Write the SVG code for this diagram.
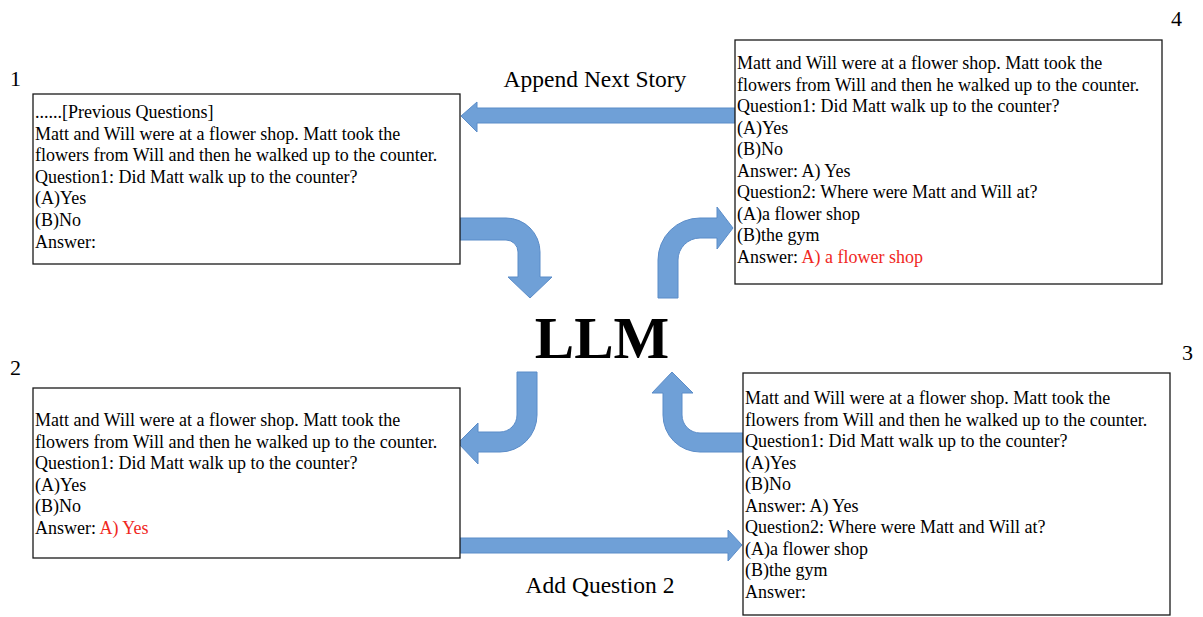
<svg xmlns="http://www.w3.org/2000/svg" width="1203" height="617" viewBox="0 0 1203 617">
<style>
.box{fill:#fff;stroke:#1a1a1a;stroke-width:1.3}
.t{font-family:"Liberation Serif","Times New Roman",serif;font-size:18px;fill:#000}
.red{fill:#f0281e}
.num{font-family:"Liberation Serif","Times New Roman",serif;font-size:22px;fill:#000}
.lbl{font-family:"Liberation Serif","Times New Roman",serif;font-size:23.5px;fill:#000}
.arr{fill:#6fa0d7;stroke:#5b8cc8;stroke-width:1}
</style>
<rect width="1203" height="617" fill="#fff"/>
<g id="connectors">
<path class="arr" d="M735,108 V123 H477 V132 L461,116 L477,102 V108 Z"/>
<path class="arr" d="M460,538 H728 V530 L742,545 L728,561 V553 H460 Z"/>
<path class="arr" d="M460,218 H506 A34,34 0 0 1 540,252 V277 H552 L530,298 L508,277 H518 V252 A12,12 0 0 0 506,240 H460 Z"/>
<path class="arr" d="M658,298 V260 A42,42 0 0 1 700,218 H717 V207 L733,228 L717,249 V238 H700 A22,22 0 0 0 678,260 V298 Z"/>
<path class="arr" d="M517,372 H537 V415 A37,37 0 0 1 500,452 H478 V464 L458,443 L478,423 V432 H500 A17,17 0 0 0 517,415 Z"/>
<path class="arr" d="M743,433 V452 H700 A37,37 0 0 1 663,415 V393 H652 L672,372 L693,393 H682 V415 A18,18 0 0 0 700,433 Z"/>
<text class="lbl" x="595" y="87" text-anchor="middle">Append Next Story</text>
<text class="lbl" x="600" y="593" text-anchor="middle">Add Question 2</text>
</g>
<g id="llm">
<text x="602" y="358" text-anchor="middle" font-family="'Liberation Serif','Times New Roman',serif" font-size="59" font-weight="bold">LLM</text>
</g>
<g id="node1">
<text class="num" x="10" y="86">1</text>
<rect class="box" x="33" y="94" width="427" height="170"/>
<text class="t" x="35" y="118">......[Previous Questions]</text>
<text class="t" x="35" y="139.6">Matt and Will were at a flower shop. Matt took the</text>
<text class="t" x="35" y="161.2">flowers from Will and then he walked up to the counter.</text>
<text class="t" x="35" y="182.8">Question1: Did Matt walk up to the counter?</text>
<text class="t" x="35" y="204.4">(A)Yes</text>
<text class="t" x="35" y="226">(B)No</text>
<text class="t" x="35" y="247.6">Answer:</text>
</g>
<g id="node2">
<text class="num" x="10" y="375">2</text>
<rect class="box" x="33" y="388" width="427" height="170"/>
<text class="t" x="35" y="426">Matt and Will were at a flower shop. Matt took the</text>
<text class="t" x="35" y="447.5">flowers from Will and then he walked up to the counter.</text>
<text class="t" x="35" y="469">Question1: Did Matt walk up to the counter?</text>
<text class="t" x="35" y="490.5">(A)Yes</text>
<text class="t" x="35" y="512">(B)No</text>
<text class="t" x="35" y="533.5">Answer: <tspan class="red">A) Yes</tspan></text>
</g>
<g id="node4">
<text class="num" x="1171" y="26">4</text>
<rect class="box" x="735" y="40" width="427" height="244"/>
<text class="t" x="737" y="69">Matt and Will were at a flower shop. Matt took the</text>
<text class="t" x="737" y="90.5">flowers from Will and then he walked up to the counter.</text>
<text class="t" x="737" y="112">Question1: Did Matt walk up to the counter?</text>
<text class="t" x="737" y="133.5">(A)Yes</text>
<text class="t" x="737" y="155">(B)No</text>
<text class="t" x="737" y="176.5">Answer: A) Yes</text>
<text class="t" x="737" y="198">Question2: Where were Matt and Will at?</text>
<text class="t" x="737" y="219.5">(A)a flower shop</text>
<text class="t" x="737" y="241">(B)the gym</text>
<text class="t" x="737" y="262.5">Answer: <tspan class="red">A) a flower shop</tspan></text>
</g>
<g id="node3">
<text class="num" x="1182" y="360">3</text>
<rect class="box" x="743" y="373" width="427" height="242"/>
<text class="t" x="745" y="404">Matt and Will were at a flower shop. Matt took the</text>
<text class="t" x="745" y="425.5">flowers from Will and then he walked up to the counter.</text>
<text class="t" x="745" y="447">Question1: Did Matt walk up to the counter?</text>
<text class="t" x="745" y="468.5">(A)Yes</text>
<text class="t" x="745" y="490">(B)No</text>
<text class="t" x="745" y="511.5">Answer: A) Yes</text>
<text class="t" x="745" y="533">Question2: Where were Matt and Will at?</text>
<text class="t" x="745" y="554.5">(A)a flower shop</text>
<text class="t" x="745" y="576">(B)the gym</text>
<text class="t" x="745" y="597.5">Answer:</text>
</g>
</svg>
